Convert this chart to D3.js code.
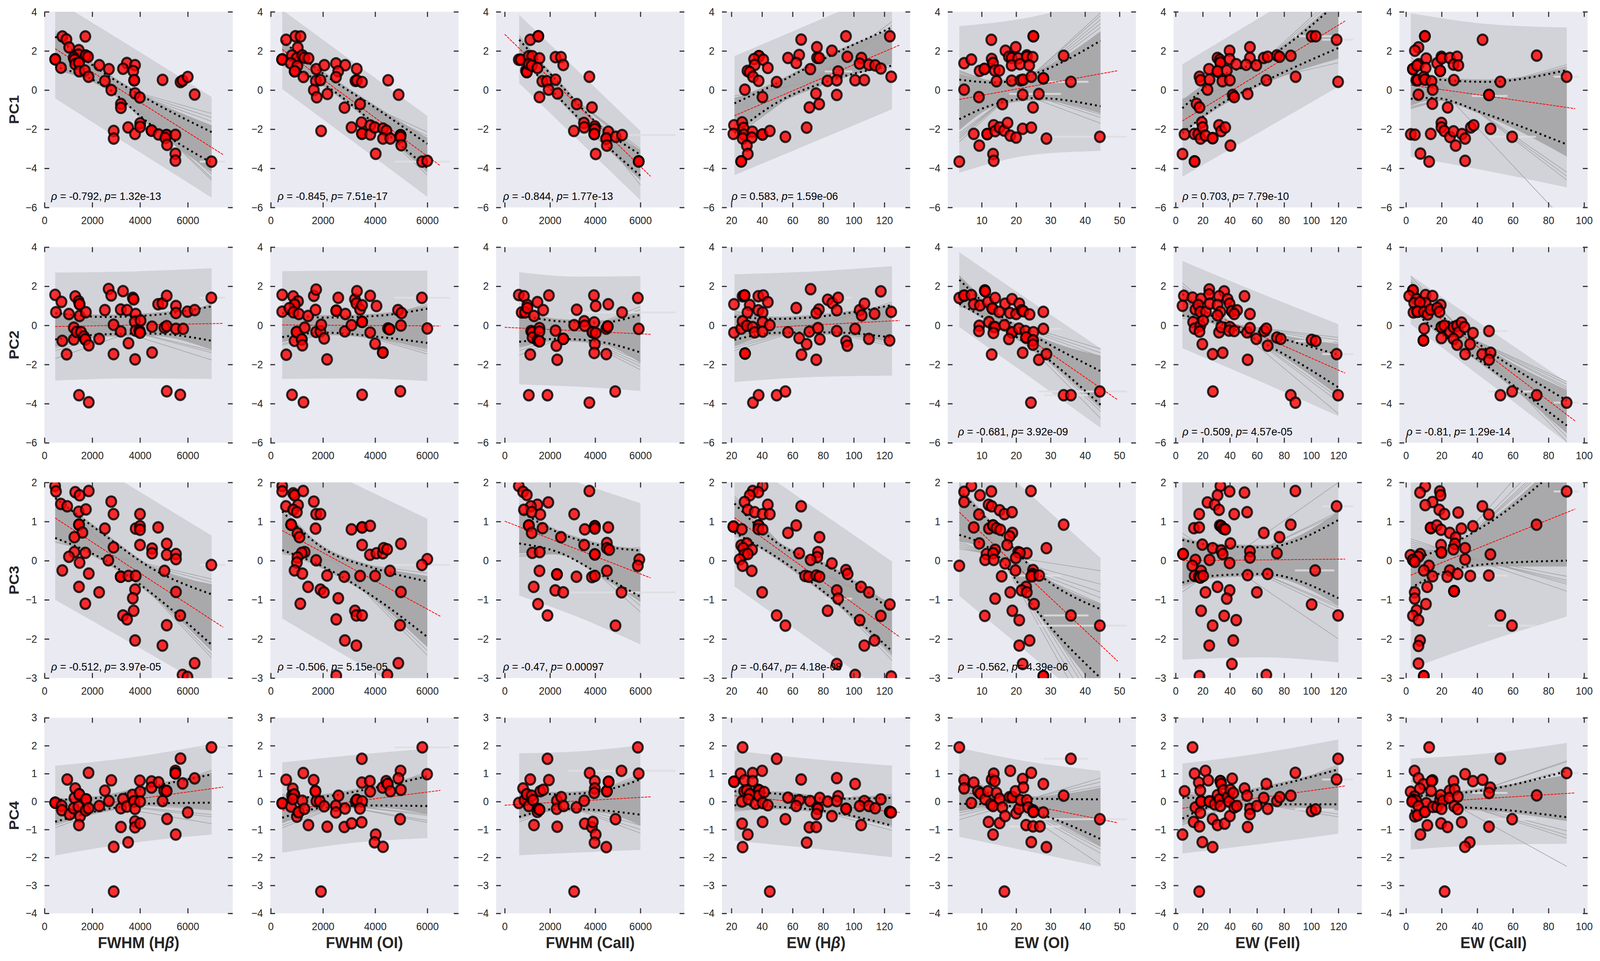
<!DOCTYPE html>
<html>
<head>
<meta charset="utf-8">
<script src="https://cdnjs.cloudflare.com/ajax/libs/d3/7.8.5/d3.min.js"></script>
<style>
  html, body { margin: 0; padding: 0; background: #fff; overflow: hidden; width: 100%; height: 100%; }
  svg { display: block; width: 100vw; height: 100vh; }
  text { font-family: "Liberation Sans", Arial, sans-serif; }
</style>
</head>
<body>
<svg id="chart" viewBox="0 0 4339 2461" preserveAspectRatio="none"></svg>
<script>
const rowNames = ['PC1', 'PC2', 'PC3', 'PC4']
const colNames = [['FWHM (H', 'β', ')'], ['FWHM (OI)'], ['FWHM (CaII)'], ['EW (H', 'β', ')'], ['EW (OI)'], ['EW (FeII)'], ['EW (CaII)']]

const xLimits = [[0, 7883], [-17, 7197], [-381, 7945], [13.8, 136.9], [0.15, 54.8], [-1.5, 137.3], [-3.7, 102]]
const yLimits = [[-6, 4], [-6, 4], [-3, 2], [-4, 3]]
const xTicks = [[0, 2000, 4000, 6000], [0, 2000, 4000, 6000], [0, 2000, 4000, 6000], [20, 40, 60, 80, 100, 120], [10, 20, 30, 40, 50], [0, 20, 40, 60, 80, 100, 120], [0, 20, 40, 60, 80, 100]]
const yTicks = [[-6, -4, -2, 0, 2, 4], [-6, -4, -2, 0, 2, 4], [-3, -2, -1, 0, 1, 2], [-4, -3, -2, -1, 0, 1, 2, 3]]

// x stations of the band readings: left end, two inner, right end
const stations = [[450, 2500, 4500, 7000], [440, 2000, 4000, 6000], [640, 2400, 4200, 6000], [22, 50, 85, 125], [3.5, 14, 26, 44.5], [5, 30, 65, 120], [2.7, 15, 45, 90.3]]
const outerX = [[450, 3725, 7000], [440, 3220, 6000], [640, 3320, 6000], [22, 73.5, 125], [3.5, 24, 44.5], [5, 62.5, 120], [2.7, 46.5, 90.3]]
const redX = [[450, 7480], [440, 6500], [0, 6450], [22, 130], [3.5, 49.5], [5, 125], [2.7, 95]]

const outerHi = [
  [[4.6, 2.15, -0.35], [4.1, 1.38, -1.32], [3.84, 0.88, -2.09], [1.74, 3.45, 5.17], [3.27, 3.72, 4.7], [1.32, 3.72, 6.1], [3.93, 3.37, 3.2]],
  [[2.7, 2.76, 2.92], [2.77, 2.8, 2.8], [2.72, 2.49, 2.52], [2.61, 2.76, 3.03], [3.74, 1.26, -1.17], [3.29, 1.64, 0.06], [2.56, -0.2, -2.9]],
  [[3.08, 1.86, 0.64], [2.86, 1.96, 1.07], [2.5, 1.98, 1.47], [2.75, 1.37, -0.02], [3.33, 1.7, 0.07], [2.6, 2.4, 2.6], [2.4, 2.5, 3.6]],
  [[1.28, 1.59, 2.06], [1.4, 1.67, 1.89], [1.73, 1.8, 2.01], [1.82, 1.52, 1.29], [1.92, 1.42, 1.1], [1.36, 1.73, 2.22], [1.54, 1.73, 2.1]]
]
const outerLo = [
  [[-0.43, -2.97, -5.5], [0.05, -2.7, -5.46], [0.35, -2.64, -5.63], [-4.35, -2.67, -0.98], [-4.23, -3.33, -3.11], [-4.43, -2.13, 0.17], [-3.41, -4.15, -4.98]],
  [[-2.82, -2.71, -2.74], [-2.74, -2.71, -2.85], [-3.02, -3.14, -3.35], [-2.9, -2.64, -2.57], [-0.09, -2.64, -5.24], [-1.17, -2.87, -4.64], [0.06, -2.94, -6]],
  [[-1, -2.14, -3.29], [-1.48, -2.57, -3.65], [-0.89, -1.46, -2.14], [-0.66, -2.08, -3.49], [-0.9, -2.4, -3.9], [-2.53, -2.47, -2.6], [-2.76, -2.05, -1.43]],
  [[-1.93, -1.47, -1.18], [-1.83, -1.47, -1.31], [-1.92, -1.82, -1.73], [-1.4, -1.68, -1.99], [-1.26, -1.79, -2.33], [-1.86, -1.52, -1.15], [-1.72, -1.55, -1.51]]
]
const dotHi = [
  [[2.73, 0.86, -0.59, -2.15], [2.53, 0.85, -0.9, -2.75], [2.57, 0.35, -1.83, -3.3], [-0.68, 0.35, 1.77, 3.2], [0.53, 0.38, 0.87, 2.52], [-0.93, 0.57, 1.55, 4.5], [0.95, 0.57, 0.42, 1.02]],
  [[0.63, 0.43, 0.52, 0.97], [0.63, 0.4, 0.48, 0.85], [0.54, 0.21, 0.14, 0.54], [0.44, 0.33, 0.51, 1.04], [2.33, 0.66, -0.62, -2.34], [1.6, 0.35, -0.4, -1.5], [2, 0.89, -1.22, -3.84]],
  [[1.6, 0.66, -0.2, -0.86], [1.26, 0.32, -0.2, -0.53], [1.28, 0.71, 0.39, 0.26], [1.46, 0.45, -0.19, -1.28], [1.8, 0.83, -0.3, -1.24], [0.53, 0.38, 0.34, 1.04], [0.02, 0.21, 0.92, 2.55]],
  [[0.06, 0.15, 0.53, 0.97], [0.13, 0.18, 0.5, 0.9], [0.37, 0.26, 0.37, 0.79], [0.37, 0.28, 0.1, 0.13], [0.75, 0.25, 0.1, 0.08], [0.13, 0.16, 0.47, 1.15], [0.18, 0.23, 0.42, 1.09]]
]
const dotLo = [
  [[1.2, 0.21, -1.81, -3.72], [1.39, 0.32, -1.74, -3.98], [1.77, -0.4, -2.51, -4.38], [-2.2, -0.63, 0.5, 1.25], [-1.49, -0.71, -0.41, -0.83], [-2.2, -0.86, 0.42, 2.15], [-0.45, -0.4, -1.23, -2.78]],
  [[-0.72, -0.46, -0.42, -0.79], [-0.6, -0.37, -0.57, -0.9], [-0.84, -0.69, -0.84, -1.38], [-0.74, -0.38, -0.36, -0.62], [1.1, 0.06, -1.29, -4.06], [0.51, 0.14, -0.92, -3.17], [0.81, -0.09, -2.04, -5.12]],
  [[0.58, 0.02, -0.84, -2.15], [0.27, -0.15, -0.95, -1.95], [0.44, 0.21, -0.34, -0.92], [0.71, 0.08, -0.94, -2.31], [0.66, 0.19, -1.28, -3], [-0.56, -0.38, -0.34, -0.96], [-0.7, -0.4, -0.09, 0]],
  [[-0.72, -0.29, -0.07, -0.04], [-0.58, -0.22, -0.14, -0.16], [-0.55, -0.26, -0.31, -0.47], [-0.13, -0.19, -0.37, -0.86], [-0.08, -0.1, -0.42, -1.34], [-0.61, -0.16, -0.1, -0.1], [-0.33, -0.19, -0.25, -0.56]]
]
// solid grey fan at its two ends: hi left, hi right, lo left, lo right
const fanEnds = [
  [[2.9, -1.8, 1.05, -4.2], [2.55, -2.45, 1.3, -4.15], [2.7, -3.05, 1.7, -4.6], [-0.45, 3.1, -2.25, 1.35], [0.85, 3, -2.05, -1.2], [-0.5, 4.6, -2.2, 1.6], [1.2, 1.1, -0.8, -3.4]],
  [[0.65, 1, -1.1, -1.25], [0.65, 1, -0.85, -1.2], [0.75, 0.7, -1.1, -1.9], [0.6, 1.05, -1.05, -0.85], [2.45, -1.55, 1.05, -4.2], [1.9, -0.95, 0.5, -3.6], [2.25, -3.3, 0.85, -5.5]],
  [[1.65, -0.6, 0.55, -2.3], [1.25, -0.4, 0.22, -2.2], [1.3, 0.3, 0.2, -1.05], [1.55, -1.15, 0.72, -2.4], [1.9, -1.1, 0.5, -3.4], [0.58, 1.25, -0.65, -1.15], [0.3, 2.8, -0.7, -0.15]],
  [[0.1, 1.02, -0.8, -0.3], [0.14, 1, -0.78, -0.45], [0.35, 0.85, -0.6, -0.85], [0.38, 0.2, -0.3, -0.85], [0.9, 0.5, -0.35, -1.6], [0.25, 1.2, -0.75, -0.3], [0.4, 0.95, -0.38, -0.7]]
]
// separate bootstrap lines outside the solid fan, [y at left end, y at right end]
const strayLines = [
  [[[1.05, -1.2], [1.15, -1.4], [1.25, -1.6], [2.95, -4.5], [3.05, -4.6], [2.85, -4.3]],
   [[1.25, -2.15], [1.3, -2.35], [1.35, -2.45], [2.6, -4.35], [2.55, -4.2], [2.5, -4.1]],
   [[1.65, -3], [1.7, -3.1], [1.75, -3.2], [2.8, -4.85], [2.7, -4.6], [2.65, -4.5]],
   [[-2.4, 3.5], [-2.3, 3.3], [-2.2, 3.15], [-0.3, 1.2], [-0.4, 1.3], [-0.45, 1.4]],
   [[-2.65, 3.95], [-2.5, 3.8], [-2.4, 3.6], [-2.3, 3.4], [-2.2, 3.2], [1, -1.7], [0.95, -1.4], [0.9, -1.25]],
   [[-2.3, 5], [-2.2, 4.8], [-2.1, 4.6], [-0.45, 1.4], [-0.5, 1.75], [-0.55, 1.9]],
   [[-0.95, 1.3], [-0.9, 1.2], [-0.85, 1.15], [1.5, -4.6], [1.4, -4.4], [1.3, -4.2], [1.7, -6.8]]],
  [[[-1.7, 1.1], [-1.3, 1.05], [-1.15, 1], [0.75, -1.77], [0.7, -1.4], [0.65, -1.3]],
   [[-1.02, 1.08], [-0.95, 1], [-0.85, 0.95], [0.7, -1.47], [0.68, -1.35], [0.66, -1.25]],
   [[-1.52, 0.96], [-1.3, 0.8], [-1.15, 0.7], [0.9, -2.27], [0.85, -2.1], [0.8, -1.95], [0.75, -1.8]],
   [[-1.29, 1.19], [-1.15, 1.1], [-1.05, 1.05], [0.74, -1.07], [0.68, -0.95], [0.6, -0.85]],
   [[0.96, -1.2], [1, -1.4], [1.05, -1.6], [2.54, -4.75], [2.5, -4.4], [2.45, -4.25]],
   [[0.36, -0.62], [0.45, -0.75], [0.5, -0.9], [2.16, -4.52], [2, -3.9], [1.9, -3.7]],
   [[0.73, -2.87], [0.8, -3], [0.85, -3.15], [0.9, -3.25], [2.5, -5.95], [2.35, -5.7], [2.25, -5.5]]],
  [[[0.47, -0.47], [0.5, -0.55], [0.55, -0.65], [1.75, -2.49], [1.7, -2.4], [1.65, -2.3]],
   [[0.17, -0.32], [0.2, -0.4], [0.22, -0.45], [1.34, -2.42], [1.3, -2.3], [1.25, -2.2]],
   [[0.11, 0.34], [0.15, 0.3], [0.2, 0.25], [1.46, -1.31], [1.4, -1.15], [1.35, -1.05]],
   [[0.64, -1.09], [0.68, -1.15], [0.72, -1.2], [1.65, -2.55], [1.6, -2.45], [1.55, -2.4]],
   [[0.3, -0.26], [0.35, -0.6], [0.4, -0.8], [0.45, -0.95], [0.5, -1.1], [2, -4.5], [1.95, -4.2], [1.9, -3.9], [1.85, -3.7], [1.8, -3.5]],
   [[-0.8, 2], [-0.7, 1.25], [-0.65, 1.2], [0.7, -2], [0.6, -1.3], [0.58, -1.2], [0.55, -1.15]],
   [[-0.9, 3.6], [-0.85, 3.2], [-0.8, 3], [-0.75, 2.9], [-0.7, 2.8], [0.56, -0.78], [0.5, -0.6], [0.45, -0.55], [0.4, -0.5], [0.35, -0.4]]],
  [[[-0.94, 1.13], [-0.85, 1.08], [-0.8, 1.02], [0.15, -0.79], [0.12, -0.55], [0.1, -0.47], [0.08, -0.3]],
   [[-0.94, 1.08], [-0.85, 1], [-0.75, 0.95], [0.26, -0.75], [0.2, -0.68], [0.15, -0.5], [0.12, -0.45]],
   [[-0.73, 0.97], [-0.65, 0.9], [-0.6, 0.85], [0.47, -1.13], [0.4, -1], [0.35, -0.85]],
   [[-0.35, 0.26], [-0.3, 0.2], [0.47, -1.03], [0.42, -0.9], [0.38, -0.85]],
   [[-0.65, 0.84], [-0.5, 0.7], [-0.4, 0.55], [-0.3, 0.45], [1.13, -2.26], [1, -1.85], [0.95, -1.7], [0.9, -1.6]],
   [[-0.84, 1.31], [-0.8, 1.25], [-0.75, 1.2], [0.37, -0.55], [0.3, -0.45], [0.25, -0.3]],
   [[-0.45, 1.46], [-0.42, 1.42], [-0.38, 1.15], [-0.35, 1.1], [0.5, -1.31], [0.45, -1.2], [0.4, -1.05], [0.75, -2.32]]]
]
const redY = [
  [[2.11, -3.3], [2.08, -3.87], [2.85, -4.41], [-1.31, 2.3], [-0.48, 0.99], [-1.58, 3.53], [0.25, -0.95]],
  [[-0.06, 0.1], [0.02, -0.03], [-0.1, -0.46], [-0.2, 0.25], [1.78, -3.81], [1.25, -2.44], [1.5, -4.89]],
  [[1.09, -1.7], [0.77, -1.42], [1.01, -0.44], [1.1, -1.95], [1.24, -2.57], [0, 0.04], [-0.37, 1.32]],
  [[-0.32, 0.52], [-0.32, 0.4], [-0.13, 0.17], [0.21, -0.39], [0.37, -0.76], [-0.24, 0.56], [-0.06, 0.31]]
]
// x error bars: column, x from, x to, y in the four rows
const errBars = [
  [0, 6500, 7580, -3.66, 1.41, -0.11, 1.94],
  [1, 4740, 6870, -3.66, 1.41, -0.11, 1.94],
  [2, 2820, 7560, -2.3, 0.66, -0.81, 1.1],
  [3, 81, 99, 0.95, 1.41, -0.97, 0.19],
  [4, 26.4, 52.2, -2.39, -3.38, -1.66, -0.63],
  [4, 28, 41, 0.42, -3.57, -1.4, 1.53],
  [4, 18, 33, -0.2, -0.18, -0.38, -0.89],
  [5, 108, 131, 2.57, -1.47, 1.39, 0.79],
  [5, 88, 117, 2.75, -0.8, -0.25, -0.28],
  [6, 83, 97, 0.68, -3.95, 1.77, 1.02],
  [6, 46, 73, -2.39, -3.38, -1.66, -0.63],
  [6, 37, 57, -0.3, -0.29, -0.38, 0.31]
]
const annoRho = [
  ['-0.792', '-0.845', '-0.844', '0.583', null, '0.703', null],
  [null, null, null, null, '-0.681', '-0.509', '-0.81'],
  ['-0.512', '-0.506', '-0.47', '-0.647', '-0.562', null, null],
  [null, null, null, null, null, null, null]
]
const annoP = [
  ['1.32e-13', '7.51e-17', '1.77e-13', '1.59e-06', null, '7.79e-10', null],
  [null, null, null, null, '3.92e-09', '4.57e-05', '1.29e-14'],
  ['3.97e-05', '5.15e-05', '0.00097', '4.18e-08', '4.39e-06', null, null],
  [null, null, null, null, null, null, null]
]
const annoOffset = [18, 20, 19, 26, 28, 24, 19]

const pc1Col1 = [[751,2.74],[920,2.59],[1034,2.18],[1711,2.74],[1436,2.04],[1423,1.81],[1221,1.66],[1255,1.55],[1725,1.76],[1725,1.76],[1825,1.70],[450,1.57],[450,1.57],[691,1.14],[1289,1.32],[1443,1.39],[1443,1.39],[1456,0.96],[1691,1.0],[1846,0.68],[2295,1.27],[2698,1.07],[2530,0.46],[2799,0],[3201,-0.71],[3201,-0.91],[3450,1.38],[3289,1.09],[3792,1.27],[3718,0.97],[3758,0.5],[3758,0.5],[4946,0.52],[5698,0.41],[5785,0.48],[6000,0.67],[6289,-0.23],[3792,-0.17],[3993,-0.38],[3503,-1.91],[3792,-2.24],[4007,-1.7],[4007,-1.88],[4483,-2.07],[4483,-2.07],[4778,-2.27],[5114,-2.3],[5114,-2.3],[5060,-2.45],[5134,-2.8],[5483,-2.29],[5483,-3.26],[5483,-3.61],[6993,-3.66],[2899,-2.09],[2899,-2.48]]
const pc1Col2 = [[588,2.57],[946,2.75],[1142,2.74],[1035,2.17],[811,1.77],[996,1.63],[1214,1.77],[1287,1.65],[1449,1.62],[436,1.56],[436,1.56],[767,1.37],[1018,1.23],[918,0.96],[918,0.96],[1253,0.67],[1746,1.07],[2054,1.27],[2501,1.36],[2854,1.27],[2585,0.96],[2501,0.66],[3296,1.08],[3246,0.47],[3302,0.49],[3497,0.41],[1729,0.46],[1903,0.51],[1651,0],[1763,-0.37],[2171,-0.2],[3425,-0.72],[2826,-0.9],[4499,0.5],[4902,-0.24],[1931,-2.09],[3095,-1.91],[3481,-1.66],[3497,-2.23],[3497,-2.23],[3816,-1.81],[3816,-2.27],[3984,-1.91],[4303,-1.97],[4432,-2.08],[4303,-2.48],[4583,-2.48],[4975,-2.31],[4975,-2.31],[4975,-2.4],[5003,-2.82],[4023,-3.26],[5803,-3.66],[5999,-3.62]]
const pc1Col3 = [[1129,2.57],[1485,2.75],[1485,2.75],[622,1.55],[711,1.55],[1066,1.73],[1218,1.73],[1536,1.62],[939,1.0],[977,0.92],[977,0.92],[1066,1.32],[1193,1.25],[1447,1.13],[1662,0.45],[1865,0.45],[2246,0.53],[2246,1.68],[2487,1.68],[2589,1.28],[1536,-0.36],[1942,0.02],[2335,-0.18],[3185,-0.72],[3744,0.68],[3858,-0.89],[3503,-1.68],[3515,-1.91],[3058,-2.09],[3985,-1.86],[3985,-2.0],[3960,-2.25],[3960,-2.25],[4581,-2.13],[4492,-2.48],[4492,-2.48],[4518,-2.84],[4911,-2.39],[5190,-2.3],[4023,-3.27],[5926,-3.65],[5926,-3.65]]
const pc1Col4 = [[65.6,2.58],[94.9,2.75],[123.6,2.75],[75.9,2.19],[85.7,2.01],[57,1.64],[64.3,1.79],[62.4,1.38],[76,1.65],[77.4,1.64],[95.8,1.70],[105,1.64],[103.8,1.35],[109.9,1.29],[114,1.26],[117.7,1.1],[71.6,1.07],[89.8,0.95],[82.8,0.47],[88.9,0.5],[100.9,0.5],[106.9,0.51],[124.5,0.68],[75.3,-0.18],[77.4,-0.72],[71,-0.89],[88.9,-0.25],[38,1.73],[38,1.73],[34.8,1.58],[40.8,1.55],[35.2,1.28],[43.8,1.13],[30.5,0.98],[32,0.92],[34.1,0.68],[37.8,0.47],[49.6,0.41],[28.8,0.02],[40.3,-0.36],[21.7,-1.8],[21.3,-2.24],[27,-1.65],[27.9,-1.94],[28.3,-2.28],[27.4,-2.48],[33.7,-2.13],[33.3,-2.43],[30.1,-2.84],[30.7,-3.27],[26.4,-3.65],[26.4,-3.65],[40.3,-2.27],[40.3,-2.27],[45.1,-2.09],[55.3,-2.39],[69.2,-1.92]]
const pc1Col5 = [[12.8,2.57],[25,2.75],[25,2.75],[19.9,2.19],[16.9,2.01],[4.9,1.37],[7,1.56],[12.9,1.59],[13.3,1.38],[17.9,1.7],[18.7,1.64],[20.6,1.62],[23.1,1.77],[23.1,1.7],[24.8,1.68],[18.7,1.26],[21.1,1.32],[23.8,1.26],[9.4,0.98],[10.8,1.08],[10.8,1.08],[13.8,1.0],[15.1,1.0],[14.3,0.45],[18.7,0.48],[21.3,0.5],[22,0.53],[24.4,0.68],[27.9,0.6],[27.9,0.6],[4.9,0.02],[9.2,-0.36],[16,-0.72],[21.9,-0.24],[26.6,-0.2],[24.9,-0.89],[33.8,1.75],[35.9,0.42],[7.7,-2.24],[9.3,-2.84],[11.6,-2.25],[11.6,-2.25],[13.5,-1.8],[13.9,-2.1],[15.2,-1.91],[16.5,-2.07],[17.5,-1.68],[18.3,-2.33],[20,-2.43],[21.9,-1.98],[24.4,-1.92],[28.8,-2.48],[13.3,-3.27],[13.5,-3.62],[3.5,-3.66],[44.3,-2.39]]
const pc1Col6 = [[54.8,2.19],[39.8,2.01],[30.9,1.64],[32.6,1.55],[33,1.4],[33,1.4],[39.8,1.58],[54.8,1.64],[52,1.29],[59.5,1.26],[44.7,1.32],[65,1.64],[67.9,1.7],[74.7,1.77],[76.6,1.7],[84.9,1.75],[100.3,2.75],[103.3,2.75],[118.7,2.57],[24.6,1.07],[30.9,0.96],[30.9,0.96],[37.7,1.0],[17.6,0.68],[18.4,0.5],[25,0.53],[34.5,0.45],[40,0.5],[66.9,0.5],[88.5,0.68],[119.8,0.42],[23.5,0.02],[42.1,-0.25],[43.2,-0.36],[53.1,-0.2],[15.4,-0.7],[17.6,-0.89],[6.6,-2.26],[5.1,-3.27],[13.8,-2.24],[16.7,-2.25],[19.3,-1.65],[19.9,-1.91],[18.4,-2.48],[22,-2.33],[27.3,-2.46],[27.3,-2.46],[32,-1.8],[33.6,-2.1],[36.6,-1.91],[40.4,-2.84],[14,-3.65],[14,-3.65]]
const pc1Col7 = [[10.6,2.75],[10.6,2.75],[7,2.18],[5,2.01],[43,2.57],[73.4,1.76],[3.9,1.07],[3.9,1.07],[7.2,1.32],[6.2,1.25],[11.4,1.61],[11,1.13],[17.5,1.37],[19.9,1.7],[20.1,1.62],[24.6,1.64],[28.7,1.7],[26.7,1.3],[29.4,1.26],[19.2,0.98],[19.2,0.98],[5.8,0.5],[6.6,0.51],[10,0.66],[10.6,0.53],[14.3,0.45],[26.9,0.51],[53,0.42],[90.2,0.68],[15,0.02],[7,-0.24],[14.8,-0.7],[23.4,-0.89],[46.6,-0.25],[46.6,-0.25],[2.7,-2.26],[5,-2.28],[13.9,-2.24],[19.9,-1.68],[19.9,-1.91],[21.5,-2.09],[24.7,-2.4],[26.7,-2.11],[31.4,-2.25],[33.2,-2.48],[36.4,-1.91],[38,-1.8],[47.5,-1.98],[59.6,-2.39],[27.9,-2.84],[8.1,-3.25],[13,-3.66],[33.2,-3.62]]

const pc2Col1 = [[446,1.56],[711,1.2],[482,0.67],[1024,0.58],[1289,1.48],[1434,1.23],[1470,1.08],[1470,1.08],[1470,0.48],[1735,0.67],[2530,0.78],[2687,1.86],[2795,1.53],[3289,1.75],[3193,0.81],[3458,0.78],[3699,1.41],[3735,1.33],[3819,0.58],[4759,1.08],[4940,1.12],[5120,1.51],[5506,0.99],[5506,0.63],[5988,0.7],[6289,0.78],[6988,1.41],[1229,-0.12],[1229,-0.72],[747,-0.79],[928,-1.48],[1349,-0.34],[1530,-0.34],[1651,-0.57],[1711,-0.72],[1711,-0.72],[1855,-1.02],[2289,-0.69],[2892,0.03],[3193,-0.31],[3518,-0.91],[2892,-1.47],[3795,-1.74],[3783,0.18],[4024,0.25],[3819,-0.27],[3976,-0.27],[4000,-0.37],[4000,-0.37],[4506,-0.07],[4506,-1.39],[5024,-0.12],[5120,-0.04],[5506,-0.18],[5807,-0.18],[1446,-3.57],[1855,-3.93],[5120,-3.37],[5687,-3.55]]
const pc2Col2 = [[440,1.56],[859,1.48],[1046,1.23],[914,1.06],[914,1.06],[440,0.7],[716,0.88],[870,0.67],[1079,0.58],[1432,0.48],[1652,1.51],[1740,1.83],[1718,0.79],[2511,0.75],[2511,0.75],[2588,1.41],[2863,0.58],[3227,1.33],[3304,1.75],[3282,1.12],[3425,0.81],[3502,1.03],[3811,1.51],[4053,0.99],[4879,0.78],[5011,0.63],[5793,1.41],[595,-1.5],[914,-0.79],[991,-0.34],[991,-0.34],[1189,-0.72],[1189,-0.72],[1211,-1.02],[1300,-0.12],[1740,-0.34],[1905,-0.31],[1938,0.03],[2048,-0.67],[2159,-1.74],[2841,-0.31],[3095,0.01],[3502,0.18],[3502,0.18],[3811,-0.37],[4000,-0.94],[4295,-1.39],[4295,-1.39],[4493,-0.16],[4549,-0.2],[4549,-0.2],[4989,-0.01],[6000,-0.16],[815,-3.55],[1256,-3.93],[3502,-3.55],[4967,-3.37]]
const pc2Col3 = [[622,1.55],[850,1.49],[1003,1.04],[1447,1.19],[1701,0.78],[749,0.66],[901,0.66],[1003,0.89],[1294,0.48],[1954,1.53],[1129,-1.49],[1168,-0.29],[1218,-0.35],[1231,-0.62],[1536,-0.14],[1536,-0.32],[1447,-0.77],[1536,-0.81],[1536,-0.81],[2246,-0.27],[2284,-1.04],[2322,-1.76],[2589,-0.69],[2589,-0.69],[3071,0.01],[3185,0.8],[3515,0.21],[3541,-0.02],[3960,0.15],[3947,1.53],[4023,0.99],[3883,-0.35],[3883,-0.35],[4023,-0.39],[3985,-0.96],[3960,-1.41],[4581,1.08],[4492,-1.47],[4492,-0.17],[4556,-0.06],[4556,-0.06],[5190,0.66],[5888,1.4],[5926,-0.18],[1066,-3.57],[1891,-3.57],[3744,-3.95],[4886,-3.38]]
const pc2Col4 = [[21.7,1.08],[27.3,1.49],[28.6,1.53],[28.6,1.53],[32,1.04],[30.5,0.66],[37.6,1.49],[40.8,1.53],[43.8,1.19],[37.6,0.77],[40.4,0.66],[40.4,0.17],[62.4,0.89],[71.8,1.85],[77.2,0.81],[75.5,0.62],[83,1.31],[86,1.14],[89.8,1.41],[88.9,0.77],[103.9,0.78],[105.2,0.51],[107,1.11],[113.6,0.59],[117.7,1.74],[124.5,0.69],[21.7,-0.37],[26.4,-0.17],[27.3,0.21],[30.1,-0.02],[33.9,-0.09],[35.2,-0.36],[40.4,-0.32],[45.1,0.01],[57,-0.35],[64.3,-0.65],[65.8,-1.5],[69.2,-0.96],[71,-0.32],[75.5,-1.76],[76.6,-0.14],[77.8,-0.71],[88.9,-0.29],[95,-0.81],[95.8,-1.04],[100.9,-0.18],[109.9,-0.69],[123.4,-0.77],[28.9,-1.44],[28.9,-1.44],[34.1,-3.95],[37.8,-3.57],[49.6,-3.57],[55.3,-3.38]]
const pc2Col5 = [[3.5,1.4],[4.9,1.52],[4.9,1.52],[7,1.55],[7.7,1.08],[9.5,1.02],[10.9,1.79],[11,1.75],[11,1.75],[11.8,1.19],[13.9,1.4],[16.8,1.11],[18.8,1.34],[20.9,1.11],[13.1,0.86],[13.1,0.86],[15.1,0.69],[18.2,0.63],[20,0.58],[21.6,0.77],[22.1,0.72],[23.9,0.56],[27.9,0.69],[9.3,-0.02],[9.2,-0.29],[12.1,0.17],[13.5,-0.09],[13.9,-0.09],[13.4,-0.39],[16.6,0.01],[18.8,-0.36],[18.8,-0.36],[20.8,-0.17],[22.7,-0.29],[25,-0.35],[22.9,-0.62],[22.9,-0.62],[24.9,-0.77],[24.9,-0.77],[24.9,-0.99],[27.9,-0.18],[17.9,-0.7],[12.9,-1.49],[21.9,-1.4],[26.6,-1.76],[28.8,-1.47],[33.8,-3.57],[35.9,-3.57],[24.3,-3.95],[44.3,-3.38]]
const pc2Col6 = [[6.1,1.51],[5.1,1.0],[12.5,1.42],[24.8,1.84],[24.6,1.58],[18.6,1.35],[35.8,1.74],[32,1.49],[38.3,1.34],[39.8,1.11],[50.8,1.49],[14.6,0.81],[16.7,1.04],[18.2,0.69],[22.4,0.69],[25.2,1.11],[30.9,1.04],[33,0.69],[30.9,0.51],[41.5,0.73],[41.5,0.73],[45.3,0.77],[43.2,0.58],[54.8,0.58],[12.9,0.17],[14,-0.17],[18.2,-0.02],[17.6,-0.32],[20.3,0.24],[19.7,-0.96],[32,-0.36],[33.6,-0.09],[40,-0.09],[39.4,-0.27],[43.2,-0.29],[52.7,-0.36],[54.8,-0.14],[59.5,-0.69],[65.4,-0.29],[66.9,-0.17],[67.9,-1.04],[74.7,-0.62],[77.5,-0.69],[100.3,-0.74],[103.3,-0.8],[118.7,-1.47],[27.3,-1.47],[34.7,-1.4],[53.1,-1.76],[27.5,-3.38],[84.9,-3.57],[88.3,-3.95],[119.8,-3.57]]
const pc2Col7 = [[3.9,1.79],[3.9,1.79],[1.8,1.5],[5.8,1.34],[4.6,1.14],[11,1.55],[14.9,1.5],[11,1.14],[7.8,1.18],[19.5,1.04],[4.2,0.66],[6.4,0.7],[6.4,0.7],[6.4,0.7],[10.1,0.69],[12.2,0.56],[13.8,0.81],[17.5,0.89],[18.8,0.69],[19.9,-0.09],[19.9,-0.09],[21.5,-0.02],[19.9,-0.65],[10.2,-0.17],[9.8,-0.77],[9.8,-0.77],[24.7,-0.32],[26.7,-0.09],[28.7,-0.02],[29.5,-0.36],[31.2,0.14],[32.8,-0.09],[26.7,-0.69],[28.7,-0.99],[33.2,-1.47],[37.6,-0.39],[36,-0.96],[42.8,-1.48],[46.6,-0.29],[47.5,-1.4],[46.6,-1.76],[53,-3.57],[59.6,-3.38],[73.4,-3.57],[90.2,-3.95]]

const pc3Col1 = [[446,1.91],[482,1.77],[687,1.45],[952,1.39],[1289,1.75],[1470,1.67],[1855,1.78],[1434,1.25],[1735,1.31],[1446,0.92],[1446,0.92],[1590,0.72],[1253,0.6],[2530,0.82],[2795,1.51],[2892,1.19],[2892,0.34],[3819,0.82],[4000,0.88],[4000,0.79],[4000,1.19],[4759,0.85],[4000,0.4],[4506,0.31],[4506,0.19],[5120,0.43],[5120,0.15],[5506,0.17],[5506,0.04],[1253,0.22],[1024,0.1],[1711,0.2],[1470,-0.05],[747,-0.25],[1855,-0.33],[2675,0.01],[3193,-0.41],[3193,-0.41],[3518,-0.39],[3819,-0.39],[5024,-0.26],[1446,-0.67],[1711,-1.1],[2289,-0.81],[3795,-0.74],[3699,-0.96],[3735,-1.28],[3289,-1.4],[3458,-1.5],[5506,-0.8],[5687,-1.4],[5120,-1.65],[3795,-2.04],[4940,-2.17],[6289,-2.62],[5783,-2.92],[5988,-2.97],[6988,-0.11]]
const pc3Col2 = [[440,1.91],[440,1.77],[859,1.72],[914,1.67],[1244,1.78],[584,1.39],[1046,1.42],[859,1.3],[1002,1.24],[1652,1.51],[1740,1.19],[1905,1.19],[782,0.92],[782,0.92],[1024,0.7],[1101,0.6],[1718,0.82],[3095,0.8],[3502,0.85],[3502,0.85],[3811,0.89],[3502,0.4],[3800,0.15],[4053,0.19],[4295,0.19],[4328,0.32],[4460,0.29],[4989,0.43],[6000,0.04],[5793,-0.11],[1300,0.22],[1189,0.2],[1024,0.08],[1002,-0.05],[914,-0.25],[1211,-0.33],[1740,0.01],[2159,-0.38],[2819,-0.41],[3425,-0.39],[4000,-0.39],[4570,-0.26],[1134,-1.1],[1432,-0.67],[1905,-0.74],[2037,-0.81],[2588,-0.96],[2511,-1.5],[3227,-1.28],[3282,-1.4],[3502,-1.4],[4989,-0.8],[4956,-1.65],[2841,-2.04],[3282,-2.17],[4890,-2.62],[2511,-2.94],[4471,-2.92]]
const pc3Col3 = [[622,1.91],[812,1.76],[977,1.68],[3744,1.78],[1929,1.49],[1447,1.43],[1155,1.39],[850,1.3],[1193,1.24],[1574,1.18],[3071,1.19],[1066,0.9],[1066,0.9],[1193,0.71],[1675,0.83],[3541,0.8],[3985,0.88],[3985,0.88],[3985,0.82],[4581,0.85],[2487,0.6],[3515,0.4],[4518,0.45],[4518,0.32],[4619,0.28],[1218,0.2],[1548,0.22],[3985,0.16],[3985,0.16],[5952,0.03],[5888,-0.13],[1536,-0.26],[2310,-0.35],[2310,-0.35],[3173,-0.41],[3858,-0.42],[3985,-0.39],[4518,-0.26],[1282,-0.67],[1472,-1.11],[2234,-0.76],[2589,-0.81],[5165,-0.81],[1891,-1.4],[4899,-1.66]]
const pc3Col4 = [[40.4,1.91],[33.9,1.78],[37.6,1.75],[32,1.67],[28.6,1.5],[43.8,1.43],[65.6,1.39],[30.7,1.3],[35.2,1.24],[40.4,1.19],[45.1,1.19],[21.3,0.87],[21.3,0.87],[26.8,0.8],[37.8,0.9],[37.8,0.9],[37.6,0.81],[40.4,0.8],[57,0.71],[62.4,0.9],[77.6,0.6],[26.4,0.39],[30.1,0.44],[27.7,0.32],[33.5,0.28],[64.3,0.19],[76.6,0.22],[76.1,0.09],[28.3,0.15],[30.7,0.17],[25.4,0.03],[27.3,-0.13],[33.3,-0.26],[85.7,-0.07],[71.8,0.02],[94.9,-0.24],[96,-0.34],[68.2,-0.39],[70.5,-0.41],[75.5,-0.38],[77.6,-0.41],[40.1,-0.81],[88.9,-0.76],[89.8,-0.97],[104.8,-0.67],[109.9,-0.81],[123.6,-1.12],[117.7,-1.41],[82.9,-1.28],[103.9,-1.52],[49.6,-1.4],[55.3,-1.66],[113.6,-2.04],[106.9,-2.17],[88.9,-2.64],[100.9,-2.92],[124.5,-2.96]]
const pc3Col5 = [[7,1.91],[4.9,1.76],[4.9,1.5],[12.8,1.77],[9.5,1.67],[24.3,1.78],[12,1.43],[12.9,1.39],[15.2,1.29],[16.6,1.19],[18.8,1.24],[9.2,1.18],[7.7,0.85],[12.1,0.82],[13.3,0.9],[13.3,0.9],[14.3,0.83],[15.4,0.79],[33.8,0.92],[18.9,0.71],[18.1,0.62],[17.4,0.4],[9.3,0.44],[13.9,0.28],[28.8,0.32],[20.6,0.22],[23.1,0.19],[21.1,0.2],[11.4,0.17],[13.3,0.19],[19.9,0.07],[11,0.02],[13.5,0.02],[3.5,-0.13],[16.8,-0.07],[19.8,-0.25],[24.9,-0.24],[24.8,-0.34],[24.9,-0.39],[24.4,-0.4],[26.7,-0.38],[15.8,-0.4],[22.9,-0.67],[21.6,-0.76],[23.1,-0.81],[18.3,-0.81],[13.9,-0.97],[25.2,-1.11],[10.9,-1.41],[18.9,-1.28],[20.9,-1.52],[35.9,-1.4],[44.3,-1.66],[23.9,-2.04],[20.9,-2.17],[21.9,-2.64],[27.9,-2.95],[27.9,-2.95]]
const pc3Col6 = [[33,1.91],[30.9,1.67],[39.8,1.77],[50.8,1.74],[88.3,1.78],[23.5,1.49],[28.8,1.43],[32,1.3],[118.7,1.39],[43.2,1.19],[52.7,1.24],[17.4,1.19],[13.5,0.83],[17.4,0.85],[32.6,0.9],[33.6,0.88],[33.6,0.88],[35.1,0.82],[36.6,0.8],[84.9,0.92],[65,0.71],[76.6,0.6],[19.7,0.41],[27.3,0.32],[33.6,0.26],[34.7,0.17],[40.4,0.44],[54.8,0.24],[54.8,0.08],[74.7,0.19],[5.5,0.17],[5.5,0.17],[14.6,0.02],[12.3,-0.13],[25,0.02],[39.8,-0.06],[18.8,-0.26],[14,-0.39],[17.1,-0.41],[18.2,-0.43],[18.2,-0.43],[20.3,-0.39],[53.1,-0.37],[67.9,-0.34],[102.9,-0.25],[22,-0.81],[30.9,-0.67],[39.8,-0.76],[37.7,-0.97],[59.9,-0.81],[18.8,-1.28],[35.8,-1.41],[44.7,-1.52],[100.3,-1.12],[119.8,-1.4],[27.3,-1.66],[24.8,-2.17],[42.5,-2.04],[41.5,-2.64],[17.6,-2.95],[66.9,-2.92]]
const pc3Col7 = [[10.8,1.9],[7.9,1.74],[19,1.77],[19.4,1.67],[90.2,1.77],[14.9,1.5],[10.8,1.42],[18.7,1.3],[21.6,1.19],[29.3,1.23],[42.9,1.39],[46.5,1.18],[14,0.83],[13.8,0.84],[17.3,0.9],[19.7,0.79],[24.6,0.71],[27.9,0.59],[31.1,0.82],[37.6,0.88],[73.3,0.92],[19.7,0.4],[27.5,0.43],[26.6,0.29],[33.2,0.32],[19.9,0.21],[19.9,0.21],[47.4,0.16],[2.5,0.14],[8,0.17],[7,0.1],[3.9,0.02],[3.9,0.02],[4.9,-0.03],[33.2,0.03],[12.9,-0.13],[10,-0.25],[14.9,-0.4],[24.6,-0.25],[23.2,-0.41],[29,-0.34],[36.1,-0.39],[46.5,-0.38],[4.9,-0.81],[4.9,-0.97],[11.9,-0.67],[27,-0.78],[27,-0.78],[27,-0.78],[11.2,-1.11],[5.9,-1.27],[3.9,-1.41],[7,-1.52],[53,-1.4],[59.5,-1.66],[7.9,-2.04],[7,-2.18],[7,-2.63],[10,-2.95],[10,-2.95]]

const pc4Col1 = [[450,-0.04],[450,-0.04],[718,-0.15],[732,-0.31],[1054,-0.46],[953,0.79],[1289,0.47],[1255,0.13],[1221,-0.24],[1456,0.26],[1456,0.26],[1423,-0.18],[1490,-0.53],[1443,-0.84],[1745,0.08],[1745,0.08],[1725,-0.32],[1846,-0.24],[1846,1.03],[2295,-0.16],[2530,0.39],[2698,0.02],[2799,0.76],[3201,-0.24],[3201,-0.91],[3289,0.09],[3450,-0.18],[2899,-1.62],[3503,-1.46],[2899,-3.22],[3685,0.24],[3752,0.01],[3752,0.01],[3792,-0.26],[3792,-0.71],[3792,-0.92],[4007,-0.78],[3993,0.75],[4007,0.35],[4007,0],[4483,0.72],[4483,0.5],[4778,0.69],[4946,0.02],[5013,0.39],[5114,0.38],[5114,0.38],[5134,-0.62],[5483,1.1],[5483,1.01],[5483,1.01],[5497,-1.18],[5698,1.54],[5785,0.65],[6000,-0.39],[6289,0.83],[6993,1.94]]
const pc4Col2 = [[442,-0.06],[442,-0.06],[593,0.78],[778,-0.18],[845,0.46],[817,0.22],[901,0.25],[901,0.25],[845,0.09],[1002,-0.54],[1069,-0.38],[1069,-0.38],[1209,0.03],[1293,-0.26],[1248,1.02],[1444,-0.84],[1645,0.77],[1712,0.37],[1712,0.37],[1752,0.01],[1880,0.01],[2048,-0.17],[2165,-0.9],[1925,-3.22],[2496,-0.15],[2496,-0.39],[2597,0.21],[2848,-0.25],[2820,-0.91],[3100,-0.78],[3251,0],[3296,0.06],[3296,0.06],[3503,0.01],[3419,-0.25],[3486,-0.74],[3492,1.53],[3492,0.68],[3800,0.73],[3811,0.36],[4023,-1.18],[3979,-1.46],[4303,-1.62],[4286,0.5],[4426,0.73],[4482,0.63],[4482,0.63],[4583,0.37],[4975,1.1],[4891,0.83],[4986,0.42],[4958,-0.63],[5809,1.94],[5993,0.98]]
const pc4Col3 = [[622,-0.05],[812,0.47],[876,0.05],[977,0.26],[977,0.26],[1066,-0.16],[1129,0.79],[1193,0.21],[1256,0.05],[1294,-0.84],[1447,-0.26],[1447,-0.37],[1536,-0.29],[1536,-0.29],[1574,0.37],[1701,0.42],[1891,1.53],[1954,0.77],[2310,0.03],[2297,-0.26],[2322,-0.9],[2500,0.16],[2602,-0.16],[3071,-3.22],[3173,-0.21],[3515,0.03],[3541,-0.79],[3756,1.02],[3858,-0.92],[3985,0.73],[3985,0.47],[3960,0.31],[4023,-1.18],[3973,-1.47],[3896,-0.73],[4492,-1.63],[4518,0.37],[4518,0.37],[4594,0.71],[4594,0.71],[4899,-0.63],[5165,1.1],[5888,1.94],[5926,1.0]]
const pc4Col4 = [[21.7,0.71],[21.7,0.71],[26,1.0],[27.3,1.94],[28.6,0.76],[33.9,1.02],[33.9,0.73],[40.1,1.1],[49.6,1.53],[65.6,0.79],[88.9,0.84],[100.9,0.63],[28.3,0.37],[30.1,0.4],[32,0.26],[32,0.26],[26.8,0],[31.1,0.08],[35.8,-0.08],[37.6,0.42],[38.2,0.4],[38.2,0.4],[38,0.21],[38,0.21],[41.4,0.34],[40.4,-0.05],[43.8,-0.13],[57,0.14],[64.3,0.05],[62.4,-0.16],[71.4,0.02],[77.8,0.13],[76.1,-0.23],[76.5,-0.26],[76.5,-0.26],[75.7,-0.45],[83,0],[89.8,0.19],[88.9,0.02],[95,-0.26],[95,-0.26],[106.9,0.02],[103.9,-0.16],[109.9,-0.16],[114,-0.24],[117.7,0.08],[123.6,-0.37],[123.6,-0.37],[124.5,-0.39],[27,-0.79],[30.7,-1.18],[27.3,-1.63],[40.4,-0.73],[55.3,-0.63],[71,-0.92],[75.5,-0.91],[69.2,-1.47],[85.7,-0.52],[104.8,-0.84],[45.1,-3.22]]
const pc4Col5 = [[3.5,1.94],[4.9,0.77],[4.9,0.47],[7.7,0.68],[7,-0.05],[8.9,0.37],[9.6,0.29],[9.6,0.29],[11,0.08],[11.8,0.37],[12,-0.73],[12.7,-0.1],[12.9,0.79],[13.5,1],[13.8,0.73],[13.3,-1.18],[13.3,-0.16],[14.3,0.31],[15.2,0.1],[15.2,-0.77],[16,-0.21],[16.8,-0.52],[16.6,-3.22],[18.3,1.1],[18.1,0.16],[18.9,0.16],[18.9,0.16],[19.8,0.37],[20,-0.42],[20.8,-0.26],[21.3,0.05],[21.9,0.81],[22.1,0.5],[23.1,0.05],[22.9,-0.84],[23.5,-0.21],[24.4,1.03],[24.4,-1.45],[24.9,-0.31],[25,-0.37],[25,-0.37],[24.9,-0.89],[26.9,-0.89],[27.9,0.63],[27.9,-0.39],[28.8,-1.63],[33.8,0.21],[35.9,1.53],[44.3,-0.63]]
const pc4Col6 = [[5.1,-1.18],[6.6,0.37],[12.5,1.94],[14,1],[14.6,-0.21],[13.3,-0.73],[17.1,0.68],[18.2,0.4],[18.2,-0.4],[17.6,-0.89],[17.4,-3.22],[19.7,-1.45],[18.8,0],[18.8,0],[22,1.1],[24.1,0.76],[25,0],[25,0],[27.3,-0.63],[27.3,-1.63],[28.8,-0.1],[30.9,0.23],[30.9,-0.84],[32.4,0.08],[33,0.73],[33,0.73],[33.6,0.63],[33,-0.16],[35.1,0.4],[36.2,-0.79],[38.3,0.16],[39.4,0],[40.4,0.42],[41.7,0.82],[42.5,0.31],[40,-0.52],[43.2,-0.21],[45.1,-0.16],[50.8,0.47],[52.7,0.21],[54.8,-0.26],[54.8,-0.45],[53.1,-0.91],[59.9,-0.16],[66.9,0.63],[65,0.13],[67.9,-0.26],[74.7,0.02],[76.8,0.16],[84.9,0.21],[88.3,1.03],[100.3,-0.34],[103.3,-0.28],[118.7,0.79],[119.8,1.53]]
const pc4Col7 = [[13,1.94],[4.8,1.1],[7,0.83],[2.6,0.35],[9.8,0.62],[7.8,0.46],[14.9,0.76],[14.3,0.73],[14.1,0.38],[4.8,0.18],[3.9,0.06],[3.9,0.06],[5.8,0.03],[3.4,0],[11.4,-0.06],[7,-0.17],[5,-0.53],[6.6,-0.49],[10.6,-0.37],[10.6,-0.37],[15.1,-0.19],[17.5,-0.19],[19.1,0.06],[19.5,0.23],[20.7,0.02],[20,-0.26],[12,-0.85],[8.1,-1.18],[19.7,-0.78],[23.3,-0.91],[24.5,0.39],[24.3,0.13],[26.7,0.73],[27.3,0.43],[29.1,0.18],[27.1,-0.17],[29.1,-0.27],[31.3,-0.74],[33.2,0.98],[37.6,0.73],[43,0.78],[47.3,0.5],[46.6,0.31],[46.6,-0.9],[35.8,-1.46],[33.1,-1.62],[21.7,-3.22],[53,1.53],[59.6,-0.63],[73.4,0.22],[90.2,1.02]]

const allPoints = [
  [pc1Col1, pc1Col2, pc1Col3, pc1Col4, pc1Col5, pc1Col6, pc1Col7],
  [pc2Col1, pc2Col2, pc2Col3, pc2Col4, pc2Col5, pc2Col6, pc2Col7],
  [pc3Col1, pc3Col2, pc3Col3, pc3Col4, pc3Col5, pc3Col6, pc3Col7],
  [pc4Col1, pc4Col2, pc4Col3, pc4Col4, pc4Col5, pc4Col6, pc4Col7]
]

const panelW = 510.5
const panelH = 501
const colStep = 612.4
const rowStep = 602.6
const left0 = 120.6
const top0 = 30.2

const svg = d3.select('#chart')
const defs = svg.append('defs')

rowNames.forEach((rowName, r) => {
  colNames.forEach((colName, c) => {
    const px = left0 + c * colStep
    const py = top0 + r * rowStep
    const x = d3.scaleLinear().domain(xLimits[c]).range([0, panelW])
    const y = d3.scaleLinear().domain(yLimits[r]).range([panelH, 0])

    const clipId = `clip-${r}-${c}`
    defs.append('clipPath').attr('id', clipId)
      .append('rect').attr('width', panelW).attr('height', panelH)

    const g = svg.append('g').attr('transform', `translate(${px},${py})`)
    g.append('rect').attr('width', panelW).attr('height', panelH).attr('fill', '#eaeaf2')

    const plot = g.append('g').attr('clip-path', `url(#${clipId})`)

    // outer band
    const outer = outerX[c].map((v, i) => ({x: v, hi: outerHi[r][c][i], lo: outerLo[r][c][i]}))
    plot.append('path').datum(outer)
      .attr('d', d3.area().x(d => x(d.x)).y0(d => y(d.lo)).y1(d => y(d.hi)).curve(d3.curveMonotoneX))
      .attr('fill', '#d2d3d9')

    // solid fan of bootstrap lines
    const ends = fanEnds[r][c]
    const s = stations[c]
    const fan = [
      {x: s[0], hi: y(ends[0]), lo: y(ends[2])},
      {x: s[1], hi: y(dotHi[r][c][1]) - 6, lo: y(dotLo[r][c][1]) + 6},
      {x: s[2], hi: y(dotHi[r][c][2]) - 6, lo: y(dotLo[r][c][2]) + 6},
      {x: s[3], hi: y(ends[1]), lo: y(ends[3])}
    ]
    plot.append('path').datum(fan)
      .attr('d', d3.area().x(d => x(d.x)).y0(d => d.lo).y1(d => d.hi).curve(d3.curveMonotoneX))
      .attr('fill', '#a9a9ab')

    plot.selectAll('.stray').data(strayLines[r][c]).join('line')
      .attr('class', 'stray')
      .attr('x1', x(s[0])).attr('x2', x(s[3]))
      .attr('y1', d => y(d[0])).attr('y2', d => y(d[1]))
      .attr('stroke', '#a4a4a6').attr('stroke-width', 1.6)

    // x error bars
    plot.selectAll('.err').data(errBars.filter(d => d[0] === c)).join('line')
      .attr('class', 'err')
      .attr('x1', d => x(d[1])).attr('x2', d => x(d[2]))
      .attr('y1', d => y(d[3 + r])).attr('y2', d => y(d[3 + r]))
      .attr('stroke', '#dfdfe2').attr('stroke-width', 5).attr('opacity', 0.85)

    // confidence limits
    const dotted = d3.line().x((d, i) => x(s[i])).y(d => y(d)).curve(d3.curveMonotoneX)
    ;[dotHi[r][c], dotLo[r][c]].forEach(vals => {
      plot.append('path').datum(vals).attr('d', dotted)
        .attr('fill', 'none').attr('stroke', '#000')
        .attr('stroke-width', 5).attr('stroke-dasharray', '5 8.5')
    })

    // regression line
    plot.append('line')
      .attr('x1', x(redX[c][0])).attr('x2', x(redX[c][1]))
      .attr('y1', y(redY[r][c][0])).attr('y2', y(redY[r][c][1]))
      .attr('stroke', '#f00').attr('stroke-width', 2).attr('stroke-dasharray', '7 2.5')

    plot.selectAll('circle').data(allPoints[r][c]).join('circle')
      .attr('cx', d => x(d[0])).attr('cy', d => y(d[1]))
      .attr('r', 13.4)
      .attr('fill', 'rgba(255,0,0,0.8)')
      .attr('stroke', 'rgba(0,0,0,0.8)').attr('stroke-width', 5.4)

    // ticks on all four sides, pointing in
    const axes = [
      d3.axisBottom(x).tickValues(xTicks[c]).tickSize(-13).tickPadding(23).tickFormat(d3.format('d')),
      d3.axisTop(x).tickValues(xTicks[c]).tickSize(-13).tickFormat(''),
      d3.axisLeft(y).tickValues(yTicks[r]).tickSize(-13).tickPadding(20).tickFormat(d3.format('d')),
      d3.axisRight(y).tickValues(yTicks[r]).tickSize(-13).tickFormat('')
    ]
    const shifts = [`translate(0,${panelH})`, 'translate(0,0)', 'translate(0,0)', `translate(${panelW},0)`]
    axes.forEach((axis, i) => {
      const a = g.append('g').attr('transform', shifts[i]).call(axis)
      a.select('.domain').remove()
      a.selectAll('line').attr('stroke', '#333').attr('stroke-width', 3)
      a.selectAll('text').attr('fill', '#262626').attr('font-size', 27.5)
        .style('font-family', '"Liberation Sans", Arial, sans-serif')
    })

    if (annoRho[r][c]) {
      const t = g.append('text')
        .attr('x', annoOffset[c]).attr('y', panelH - 19)
        .attr('font-size', 28.5).attr('fill', '#000')
      t.append('tspan').attr('font-style', 'italic').text('ρ')
      t.append('tspan').text(` = ${annoRho[r][c]}, `)
      t.append('tspan').attr('font-style', 'italic').text('p')
      t.append('tspan').text(`= ${annoP[r][c]}`)
    }

    if (c === 0) {
      g.append('text')
        .attr('transform', `translate(-70,${panelH / 2}) rotate(-90)`)
        .attr('text-anchor', 'middle').attr('font-weight', 'bold')
        .attr('font-size', 38).attr('fill', '#262626').text(rowName)
    }
    if (r === 3) {
      const t = g.append('text')
        .attr('x', panelW / 2).attr('y', panelH + 89)
        .attr('text-anchor', 'middle').attr('font-weight', 'bold')
        .attr('font-size', 41).attr('fill', '#262626')
      colName.forEach((part, i) => {
        t.append('tspan').attr('font-style', i === 1 ? 'italic' : 'normal').text(part)
      })
    }
  })
})
</script>
</body>
</html>
